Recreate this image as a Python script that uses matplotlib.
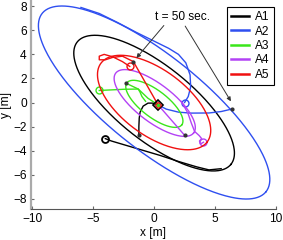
import numpy as np
import matplotlib.pyplot as plt

plt.rcParams['font.family'] = ['Liberation Sans', 'DejaVu Sans']

agents = ['A1', 'A2', 'A3', 'A4', 'A5']
colors = ['#000000', '#2f4ff0', '#3ae61a', '#b342f5', '#f01010']

# limit cycles: centre, half axes, tilt
center_x = [0.0, 0.0, 0.02, 0.05, 0.0]
center_y = [-0.05, 0.0, -0.11, -0.04, 0.0]
semi_major = [8.1, 11.8, 2.85, 4.05, 5.45]
semi_minor = [3.1, 3.9, 1.1, 1.55, 2.7]
tilt_deg = [-39, -39, -38, -38, -37]

# starting positions
start_x = [-4.0, 2.5, -4.5, 4.05, -2.0]
start_y = [-3.0, 0.0, 1.0, -3.3, 3.0]

# transients from the start onto the cycle
path_a1 = [(-4.0, -3.0), (-3.5, -3.2), (-2.5, -3.5), (-1.0, -3.95), (0.5, -4.4),
           (2.0, -4.9), (3.5, -5.35), (4.5, -5.6), (5.5, -5.5)]
path_a2 = [(2.5, 0.0), (2.8, 0.5), (3.0, 1.3), (2.95, 2.3), (2.6, 3.3), (2.0, 4.0),
           (1.2, 4.5), (0.0, 5.1), (-1.5, 5.85), (-3.0, 6.65), (-4.5, 7.4), (-6.0, 7.9)]
path_a3 = [(-4.5, 1.0), (-3.5, 1.05), (-2.5, 1.1), (-1.3, 1.12), (-1.15, 0.85),
           (-1.0, 0.5), (-0.7, 0.1)]
path_a4 = [(4.05, -3.3), (3.8, -3.45), (3.72, -3.2), (3.9, -3.0), (3.7, -2.75),
           (3.32, -2.4), (3.05, -1.7), (2.77, -0.87), (2.23, 0.09)]
path_a5 = [(-2.0, 3.0), (-2.6, 3.4), (-3.4, 3.8), (-4.1, 4.0), (-4.5, 3.85),
           (-4.5, 3.55), (-4.0, 3.55), (-3.4, 3.75), (-2.6, 3.85), (-1.7, 3.4)]
paths = [path_a1, path_a2, path_a3, path_a4, path_a5]

# position at t = 50 s
t50_x = [-1.25, 6.35, -2.3, 2.5, -1.7]
t50_y = [-2.67, -0.55, 1.6, -2.72, 3.4]

# target and the links from it to the t = 50 s positions
target = (0.33, -0.2)
link_a1 = [(0.33, -0.2), (-0.1, -0.05), (-0.5, -0.05), (-0.9, -0.3), (-1.15, -0.8),
           (-1.22, -1.3), (-1.25, -2.0), (-1.25, -2.67)]
link_a2 = [(0.33, -0.2), (1.0, -0.55), (2.0, -0.8), (3.0, -0.88), (4.5, -0.87),
           (5.5, -0.75), (6.35, -0.55)]
link_a3 = [(0.33, -0.2), (-0.5, 0.35), (-1.3, 1.12), (-2.3, 1.6)]
link_a4 = [(0.33, -0.2), (2.5, -2.72)]
link_a5 = [(0.33, -0.2), (-1.7, 3.4)]
links = [link_a1, link_a2, link_a3, link_a4, link_a5]

xticks = [-10, -5, 0, 5, 10]
yticks = [-8, -6, -4, -2, 0, 2, 4, 6, 8]

fig = plt.figure(figsize=(2.83, 2.4), dpi=100)
ax = fig.add_axes([31 / 283, 31 / 240, 245 / 283, 209 / 240])

s = np.linspace(0, 2 * np.pi, 400)
for i in range(len(agents)):
    th = np.radians(tilt_deg[i])
    a, b = semi_major[i], semi_minor[i]
    ex = center_x[i] + a * np.cos(th) * np.cos(s) - b * np.sin(th) * np.sin(s)
    ey = center_y[i] + a * np.sin(th) * np.cos(s) + b * np.cos(th) * np.sin(s)
    ax.plot(ex, ey, color=colors[i], lw=1.0, label=agents[i])
    px, py = zip(*paths[i])
    ax.plot(px, py, color=colors[i], lw=1.0)
    lx, ly = zip(*links[i])
    ax.plot(lx, ly, color=colors[i], lw=1.0)
    ax.plot(start_x[i], start_y[i], 'o', ms=5, mfc='none', mec=colors[i],
            mew=1.3 if i == 0 else 1.0)
    ax.plot(t50_x[i], t50_y[i], 'o', ms=2, color='#333333')

ax.plot(*target, 'D', ms=5.5, mfc='none', mec='black', mew=1.2)
ax.plot(*target, 'D', ms=3, mfc='none', mec=colors[4], mew=0.9)
ax.plot(*target, 'o', ms=1.5, color=colors[2])

ax.text(2.3, 7.1, 't = 50 sec.', ha='center', va='center', fontsize=8.6)
arrow = dict(arrowstyle='-|>', color='#333333', lw=0.7, mutation_scale=6,
             shrinkA=0, shrinkB=0)
ax.annotate('', xy=(-1.45, 3.7), xytext=(0.8, 6.4), arrowprops=arrow)
ax.annotate('', xy=(6.3, 0.1), xytext=(2.55, 6.35), arrowprops=arrow)

ax.set_xlim(-10.1, 10.0)
ax.set_ylim(-8.85, 8.52)
ax.set_xticks(xticks)
ax.set_yticks(yticks)
ax.tick_params(direction='in', length=2.5, width=0.8, color='#666666',
               labelsize=8.6, pad=3)
ax.spines['top'].set_visible(False)
ax.spines['right'].set_visible(False)
ax.spines['left'].set_color('#aaaaaa')
ax.spines['left'].set_linewidth(1.6)
ax.spines['bottom'].set_color('#555555')
ax.spines['bottom'].set_linewidth(0.8)
ax.set_xlabel('x [m]', fontsize=8.6, labelpad=1)
ax.set_ylabel('y [m]', fontsize=8.6, labelpad=1)

leg = ax.legend(loc='upper right', bbox_to_anchor=(1.016, 0.995), fontsize=8.6,
                handlelength=1.5, handletextpad=0.5, labelspacing=0.2,
                borderpad=0.35, fancybox=False, framealpha=1)
leg.get_frame().set_edgecolor('black')
leg.get_frame().set_linewidth(0.8)
for line in leg.get_lines():
    line.set_linewidth(1.8)

fig.savefig('out.png', dpi=100)
